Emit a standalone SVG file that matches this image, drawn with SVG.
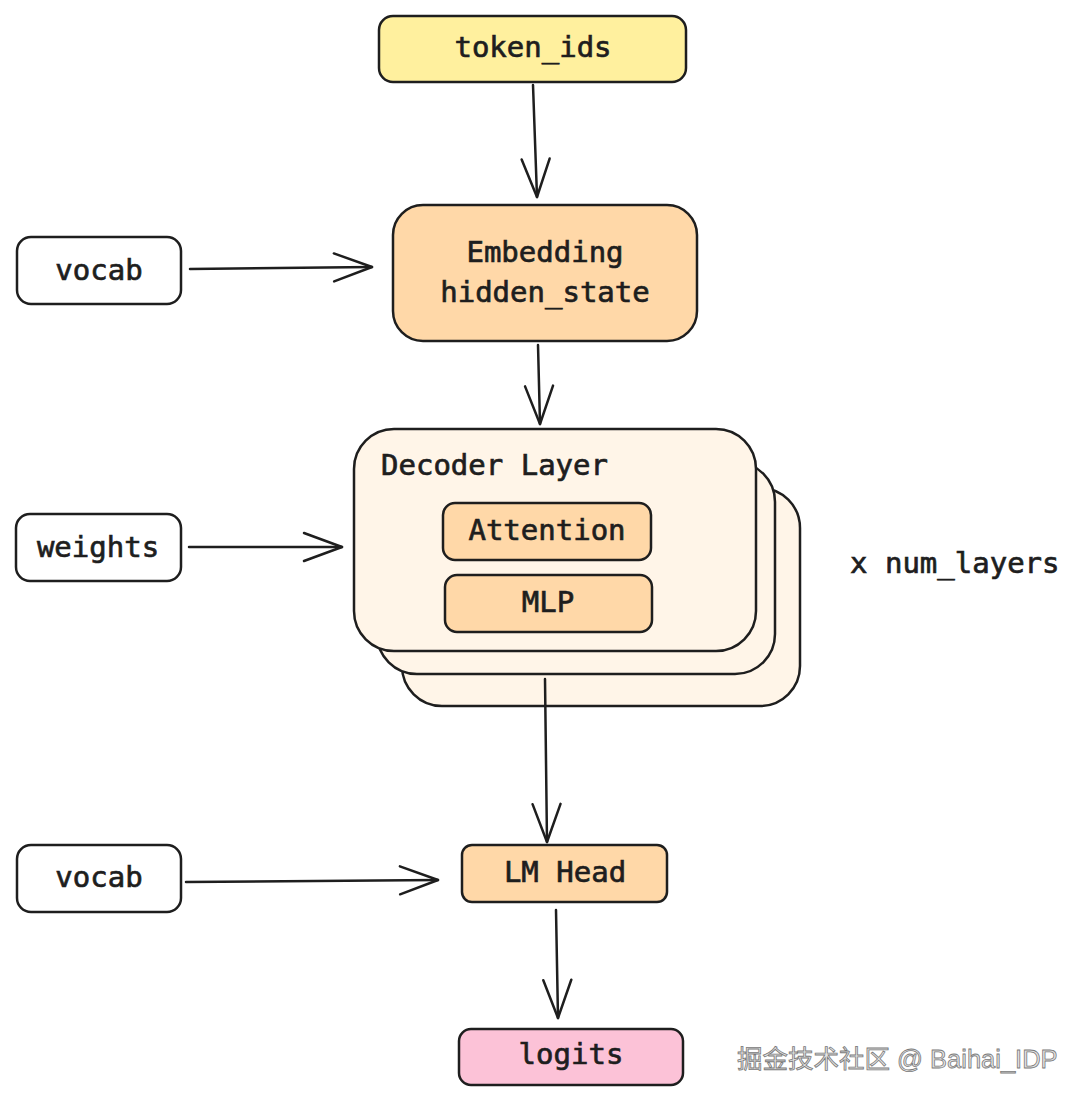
<svg xmlns="http://www.w3.org/2000/svg" width="1080" height="1102" viewBox="0 0 1080 1102">
<defs>
<marker id="arr" markerUnits="userSpaceOnUse" markerWidth="50" markerHeight="40" viewBox="-45 -20 50 40" refX="0" refY="0" orient="auto">
<path d="M-38,-14 L0,0 L-38,14" fill="none" stroke="#1e1e1e" stroke-width="2.5" stroke-linecap="round" stroke-linejoin="round"/>
</marker>
</defs>
<style>
.n{stroke:#1e1e1e;stroke-width:2.5}
.t{font-family:"DejaVu Sans Mono","Liberation Mono",monospace;font-size:29px;fill:#1e1e1e;stroke:#1e1e1e;stroke-width:0.7;text-anchor:middle}
.c{fill:none;stroke:#1e1e1e;stroke-width:2.5;stroke-linecap:round;marker-end:url(#arr)}
</style>
<rect width="1080" height="1102" fill="#ffffff"/>
<g id="token_ids">
<rect class="n" x="379" y="16" width="307" height="66" rx="14" fill="#fff09e"/>
<text class="t" x="533" y="57">token_ids</text>
</g>
<g id="embedding">
<rect class="n" x="393" y="205" width="304" height="136" rx="30" fill="#ffd8a8"/>
<text class="t" x="545" y="262">Embedding</text>
<text class="t" x="545" y="302">hidden_state</text>
</g>
<g id="vocab1">
<rect class="n" x="17" y="237" width="164" height="67" rx="14" fill="#ffffff"/>
<text class="t" x="99" y="280">vocab</text>
</g>
<g id="decoder_layer">
<rect class="n" x="402" y="488" width="398" height="218" rx="40" fill="#fff5e8"/>
<rect class="n" x="377" y="462" width="398" height="212" rx="40" fill="#fff5e8"/>
<rect class="n" x="354" y="429" width="402" height="222" rx="40" fill="#fff5e8"/>
<text class="t" x="381" y="475" style="text-anchor:start">Decoder Layer</text>
</g>
<g id="attention">
<rect class="n" x="443" y="503" width="208" height="57" rx="12" fill="#ffd8a8"/>
<text class="t" x="547" y="540">Attention</text>
</g>
<g id="mlp">
<rect class="n" x="445" y="575" width="207" height="57" rx="12" fill="#ffd8a8"/>
<text class="t" x="548" y="612">MLP</text>
</g>
<g id="weights">
<rect class="n" x="16" y="514" width="165" height="67" rx="14" fill="#ffffff"/>
<text class="t" x="98" y="557">weights</text>
</g>
<g id="num_layers">
<text class="t" x="850" y="573" style="text-anchor:start">x num_layers</text>
</g>
<g id="lm_head">
<rect class="n" x="462" y="845" width="205" height="57" rx="10" fill="#ffd8a8"/>
<text class="t" x="565" y="882">LM Head</text>
</g>
<g id="vocab2">
<rect class="n" x="17" y="845" width="164" height="67" rx="14" fill="#ffffff"/>
<text class="t" x="99" y="887">vocab</text>
</g>
<g id="logits">
<rect class="n" x="459" y="1029" width="224" height="56" rx="12" fill="#fcc2d7"/>
<text class="t" x="571" y="1064">logits</text>
</g>
<g id="connectors">
<path class="c" d="M533,85 L537,197"/>
<path class="c" d="M190,269 L372,267"/>
<path class="c" d="M538,345 L540,424"/>
<path class="c" d="M189,547 L342,547"/>
<path class="c" d="M545,679 L547,842"/>
<path class="c" d="M186,882 L438,880"/>
<path class="c" d="M556,910 L558,1018"/>
</g>
<text x="737" y="1068" font-family="'Liberation Sans','Noto Sans CJK SC',sans-serif" font-size="25.5" fill="#e4e4e4" stroke="#7a7a7a" stroke-width="0.8">掘金技术社区 @ Baihai_IDP</text>
</svg>
